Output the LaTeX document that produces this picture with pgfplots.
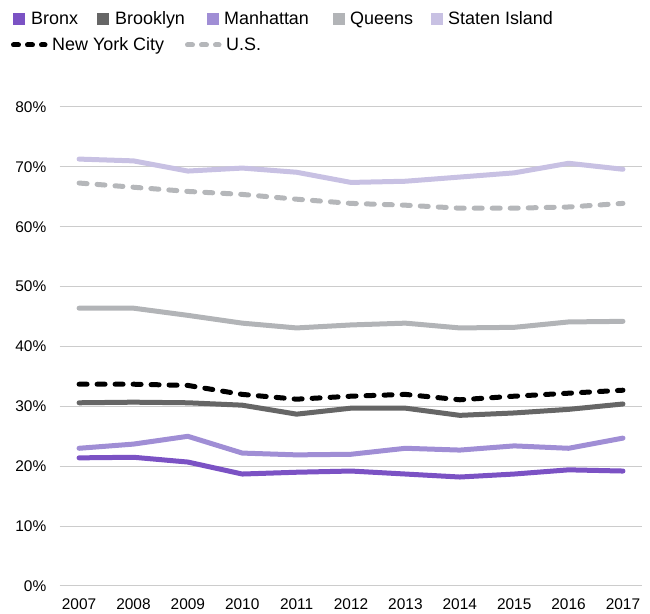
\documentclass[border=0pt]{standalone}
\usepackage{fontspec}
\setmainfont{Liberation Sans}
\usepackage{pgfplots}
\pgfplotsset{compat=1.18}

\definecolor{bronx}{HTML}{7B52C4}
\definecolor{brooklyn}{HTML}{666666}
\definecolor{manhattan}{HTML}{A08ED5}
\definecolor{queens}{HTML}{B2B4B7}
\definecolor{staten}{HTML}{C8C1E3}
\definecolor{usgray}{HTML}{B5B7BA}
\definecolor{gridgray}{HTML}{CCCCCC}

\begin{document}
\begin{tikzpicture}[x=1bp,y=1bp]
\useasboundingbox (0,0) rectangle (650,614);
\begin{axis}[
  at={(59.5bp,28bp)}, anchor=south west,
  scale only axis,
  width=582.5bp, height=479bp,
  xmin=2006.64, xmax=2017.35,
  ymin=0, ymax=80,
  xtick={2007,2008,2009,2010,2011,2012,2013,2014,2015,2016,2017},
  xticklabels={2007,2008,2009,2010,2011,2012,2013,2014,2015,2016,2017},
  ytick={0,10,20,30,40,50,60,70,80},
  yticklabels={0\%,10\%,20\%,30\%,40\%,50\%,60\%,70\%,80\%},
  axis line style={draw=none},
  major tick length=0pt,
  ymajorgrids=true,
  grid style={gridgray, line width=1bp},
  ticklabel style={font=\fontsize{15.5}{17}\selectfont, text=black},
  yticklabel style={anchor=east, inner sep=0pt, xshift=-13bp},
  xticklabel style={anchor=base, inner sep=0pt, yshift=-24bp},
  clip=false,
  every axis plot/.append style={line width=5bp, line join=round, line cap=round},
]
\addplot[usgray, dash pattern=on 8bp off 10bp] coordinates {
  (2007,67.3) (2008,66.6) (2009,65.9) (2010,65.4) (2011,64.6) (2012,63.9)
  (2013,63.6) (2014,63.1) (2015,63.1) (2016,63.3) (2017,63.9)};
\addplot[staten] coordinates {
  (2007,71.3) (2008,71.0) (2009,69.3) (2010,69.8) (2011,69.1) (2012,67.4)
  (2013,67.6) (2014,68.3) (2015,69.0) (2016,70.6) (2017,69.6)};
\addplot[queens] coordinates {
  (2007,46.4) (2008,46.4) (2009,45.2) (2010,43.9) (2011,43.1) (2012,43.6)
  (2013,43.9) (2014,43.1) (2015,43.2) (2016,44.1) (2017,44.2)};
\addplot[brooklyn] coordinates {
  (2007,30.6) (2008,30.7) (2009,30.6) (2010,30.2) (2011,28.7) (2012,29.7)
  (2013,29.7) (2014,28.5) (2015,28.9) (2016,29.5) (2017,30.4)};
\addplot[manhattan] coordinates {
  (2007,23.0) (2008,23.7) (2009,25.0) (2010,22.2) (2011,21.9) (2012,22.0)
  (2013,23.0) (2014,22.7) (2015,23.4) (2016,23.0) (2017,24.7)};
\addplot[bronx] coordinates {
  (2007,21.4) (2008,21.5) (2009,20.7) (2010,18.7) (2011,19.0) (2012,19.2)
  (2013,18.7) (2014,18.2) (2015,18.7) (2016,19.4) (2017,19.2)};
\addplot[black, dash pattern=on 8bp off 10bp] coordinates {
  (2007,33.7) (2008,33.7) (2009,33.5) (2010,32.0) (2011,31.2) (2012,31.7)
  (2013,32.0) (2014,31.1) (2015,31.7) (2016,32.2) (2017,32.7)};
\end{axis}

% legend
\begin{scope}[every node/.style={font=\fontsize{18}{21}\selectfont, inner sep=0pt, anchor=base west}]
  \fill[bronx]     (13,589) rectangle (25,601);  \node at (31,589) {Bronx};
  \fill[brooklyn]  (97,589) rectangle (109,601); \node at (115,589) {Brooklyn};
  \fill[manhattan] (207,589) rectangle (219,601); \node at (224,589) {Manhattan};
  \fill[queens]    (333,589) rectangle (345,601); \node at (350,589) {Queens};
  \fill[staten]    (431,589) rectangle (443,601); \node at (448,589) {Staten Island};
  \draw[black, line width=5bp, line cap=round, dash pattern=on 5bp off 9bp] (13.5,569) -- (45,569);
  \node at (52,563) {New York City};
  \draw[usgray, line width=5bp, line cap=round, dash pattern=on 5bp off 9bp] (187.5,569) -- (219,569);
  \node at (226,563) {U.S.};
\end{scope}
\end{tikzpicture}
\end{document}
